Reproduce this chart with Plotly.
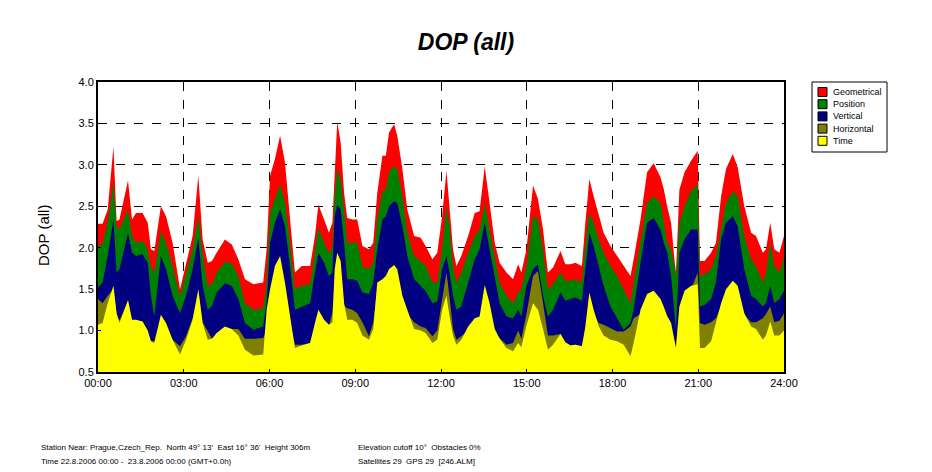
import plotly.graph_objects as go

time_h = [0.00, 0.16, 0.34, 0.54, 0.65, 0.75, 1.05, 1.19, 1.33, 1.56, 1.74, 1.85, 1.97, 2.20, 2.38, 2.61, 2.87, 3.08, 3.31, 3.51,
          3.66, 3.84, 3.99, 4.15, 4.44, 4.68, 4.91, 5.14, 5.44, 5.78, 5.90, 6.02, 6.19, 6.37, 6.54, 6.72, 6.89, 7.13, 7.42, 7.59,
          7.71, 7.91, 8.08, 8.20, 8.28, 8.37, 8.49, 8.61, 8.72, 8.90, 9.07, 9.25, 9.48, 9.63, 9.77, 9.95, 10.07, 10.18, 10.36, 10.47,
          10.65, 10.82, 11.06, 11.29, 11.46, 11.70, 11.87, 12.04, 12.19, 12.30, 12.42, 12.54, 12.71, 12.95, 13.18, 13.35, 13.53, 13.70, 13.88, 14.05,
          14.29, 14.52, 14.70, 14.81, 14.99, 15.22, 15.39, 15.57, 15.74, 15.92, 16.18, 16.35, 16.53, 16.70, 16.93, 17.05, 17.19, 17.34, 17.52, 17.69,
          17.93, 18.16, 18.39, 18.63, 18.74, 18.98, 19.21, 19.44, 19.68, 19.80, 19.91, 20.05, 20.17, 20.22, 20.34, 20.52, 20.75, 20.98, 21.06, 21.22,
          21.45, 21.62, 21.80, 21.97, 22.21, 22.38, 22.61, 22.85, 23.02, 23.26, 23.37, 23.52, 23.66, 23.84, 24.00]

geometrical = [2.29, 2.29, 2.46, 3.22, 2.32, 2.34, 2.81, 2.34, 2.42, 2.42, 2.30, 1.98, 1.96, 2.50, 2.38, 2.06, 1.50, 1.82, 2.14, 2.87,
               2.10, 1.82, 1.84, 1.94, 2.10, 2.04, 1.86, 1.62, 1.56, 1.58, 1.98, 2.87, 3.07, 3.35, 3.03, 2.34, 1.70, 1.78, 1.78, 2.14,
               2.52, 2.34, 2.18, 2.30, 2.87, 3.52, 3.27, 2.66, 2.36, 2.34, 2.34, 2.02, 1.98, 2.06, 2.66, 3.11, 3.11, 3.39, 3.49, 3.35,
               2.95, 2.46, 2.14, 2.12, 2.02, 1.86, 1.94, 2.38, 2.93, 2.46, 1.98, 1.78, 1.90, 2.14, 2.42, 2.44, 2.98, 2.54, 2.06, 1.82,
               1.70, 1.62, 1.80, 1.70, 1.98, 2.75, 2.59, 2.22, 1.70, 1.76, 1.96, 1.80, 1.80, 1.82, 1.78, 2.30, 2.83, 2.62, 2.38, 2.18,
               2.02, 1.90, 1.78, 1.66, 1.86, 2.34, 2.91, 3.02, 2.85, 2.70, 2.50, 2.30, 1.85, 1.70, 2.70, 2.91, 3.05, 3.17, 1.84, 1.84,
               1.94, 2.06, 2.62, 2.95, 3.13, 2.97, 2.50, 2.18, 2.14, 1.94, 1.98, 2.30, 1.98, 1.94, 2.14]

position = [2.00, 2.06, 2.30, 2.79, 2.26, 2.22, 2.46, 2.14, 2.06, 2.08, 1.98, 1.78, 1.70, 2.20, 2.06, 1.78, 1.42, 1.70, 1.98, 2.38,
            1.94, 1.54, 1.56, 1.70, 1.83, 1.81, 1.66, 1.33, 1.25, 1.27, 1.58, 2.42, 2.60, 2.77, 2.54, 2.06, 1.50, 1.54, 1.56, 1.94,
            2.24, 2.06, 1.94, 1.98, 2.62, 2.95, 2.83, 2.46, 2.06, 2.06, 2.06, 1.78, 1.74, 1.82, 2.34, 2.68, 2.70, 2.91, 2.99, 2.95,
            2.62, 2.18, 1.90, 1.84, 1.78, 1.58, 1.58, 1.98, 2.50, 2.26, 1.78, 1.58, 1.70, 1.94, 2.14, 2.22, 2.54, 2.22, 1.90, 1.58,
            1.42, 1.33, 1.46, 1.50, 1.78, 2.38, 2.34, 1.98, 1.50, 1.56, 1.70, 1.60, 1.60, 1.62, 1.58, 2.02, 2.42, 2.30, 2.10, 1.94,
            1.78, 1.66, 1.50, 1.33, 1.58, 2.06, 2.54, 2.62, 2.54, 2.30, 2.06, 1.98, 1.78, 1.65, 2.30, 2.50, 2.68, 2.77, 1.66, 1.68,
            1.74, 1.90, 2.22, 2.54, 2.68, 2.62, 2.14, 1.86, 1.78, 1.58, 1.70, 2.06, 1.78, 1.70, 1.90]

vertical = [1.52, 1.58, 1.90, 2.34, 1.70, 1.74, 2.18, 1.94, 1.90, 1.92, 1.82, 1.42, 1.17, 1.90, 1.74, 1.42, 1.21, 1.42, 1.74, 2.12,
            1.54, 1.25, 1.30, 1.46, 1.57, 1.54, 1.38, 1.09, 1.01, 1.05, 1.33, 2.06, 2.30, 2.46, 2.26, 1.78, 1.25, 1.29, 1.33, 1.70,
            1.94, 1.82, 1.66, 1.70, 2.38, 2.52, 2.46, 2.06, 1.62, 1.62, 1.60, 1.46, 1.44, 1.58, 1.98, 2.34, 2.38, 2.50, 2.56, 2.54,
            2.26, 1.90, 1.62, 1.54, 1.48, 1.33, 1.35, 1.74, 1.90, 1.70, 1.42, 1.25, 1.29, 1.58, 1.86, 1.98, 2.30, 1.98, 1.62, 1.33,
            1.17, 1.15, 1.25, 1.17, 1.54, 1.74, 1.80, 1.42, 1.17, 1.25, 1.46, 1.36, 1.38, 1.40, 1.36, 1.74, 2.18, 2.02, 1.78, 1.54,
            1.29, 1.15, 1.01, 1.09, 1.25, 1.82, 2.30, 2.36, 2.22, 2.05, 1.95, 1.66, 1.25, 1.01, 1.94, 2.10, 2.22, 2.22, 1.29, 1.31,
            1.38, 1.58, 2.10, 2.30, 2.38, 2.26, 1.74, 1.42, 1.38, 1.29, 1.33, 1.54, 1.33, 1.38, 1.48]

horizontal = [1.38, 1.33, 1.42, 1.50, 1.20, 1.12, 1.35, 1.12, 1.10, 1.10, 0.98, 0.87, 0.87, 1.15, 1.05, 0.89, 0.81, 0.93, 1.15, 1.45,
              1.10, 1.00, 0.90, 0.95, 1.02, 1.02, 1.02, 0.90, 0.90, 0.91, 1.00, 1.30, 1.50, 1.60, 1.40, 1.10, 0.83, 0.83, 0.85, 1.05,
              1.20, 1.10, 1.05, 1.22, 1.60, 1.80, 1.75, 1.30, 1.27, 1.25, 1.21, 1.10, 0.93, 1.10, 1.50, 1.55, 1.60, 1.65, 1.70, 1.65,
              1.35, 1.20, 1.10, 1.05, 1.03, 0.93, 1.00, 1.40, 1.70, 1.40, 1.02, 0.89, 0.93, 1.00, 1.10, 1.12, 1.45, 1.25, 0.98, 0.91,
              0.83, 0.85, 1.00, 0.90, 1.20, 1.66, 1.72, 1.33, 0.94, 0.94, 0.96, 0.86, 0.82, 0.83, 0.81, 1.00, 1.40, 1.20, 1.09, 1.07,
              1.03, 0.99, 0.99, 1.05, 1.15, 1.20, 1.40, 1.45, 1.35, 1.25, 1.15, 1.05, 0.85, 0.79, 1.25, 1.45, 1.50, 1.70, 1.09, 1.07,
              1.10, 1.15, 1.30, 1.45, 1.55, 1.50, 1.19, 1.10, 1.10, 1.15, 1.20, 1.29, 1.10, 1.12, 1.21]

time_dop = [1.07, 1.09, 1.33, 1.54, 1.21, 1.09, 1.37, 1.13, 1.13, 1.11, 1.00, 0.87, 0.85, 1.19, 1.09, 0.89, 0.71, 0.89, 1.13, 1.50,
            1.09, 0.89, 0.90, 0.97, 1.05, 1.02, 0.94, 0.77, 0.70, 0.71, 1.25, 1.50, 1.78, 1.90, 1.58, 1.17, 0.79, 0.82, 0.85, 1.09,
            1.25, 1.13, 1.07, 1.10, 1.74, 1.94, 1.84, 1.33, 1.13, 1.13, 1.09, 0.94, 0.89, 1.02, 1.58, 1.62, 1.66, 1.74, 1.79, 1.74,
            1.42, 1.25, 1.02, 1.00, 0.97, 0.85, 0.89, 1.25, 1.42, 1.17, 0.94, 0.83, 0.89, 1.05, 1.15, 1.17, 1.55, 1.33, 1.02, 0.90,
            0.79, 0.75, 0.85, 0.80, 1.06, 1.33, 1.25, 1.02, 0.77, 0.83, 0.96, 0.86, 0.82, 0.83, 0.81, 1.05, 1.46, 1.25, 1.05, 0.94,
            0.89, 0.87, 0.83, 0.69, 0.85, 1.25, 1.44, 1.48, 1.38, 1.28, 1.18, 1.09, 0.89, 0.79, 1.29, 1.48, 1.54, 1.56, 0.79, 0.79,
            0.87, 1.09, 1.33, 1.50, 1.60, 1.54, 1.21, 1.05, 1.02, 0.89, 0.94, 1.11, 0.94, 0.94, 1.00]

series_names = ["Geometrical", "Position", "Vertical", "Horizontal", "Time"]
series_colors = ["#FF0000", "#008000", "#000080", "#808000", "#FFFF00"]
x_tick_vals = [0, 3, 6, 9, 12, 15, 18, 21, 24]
x_tick_text = ["00:00", "03:00", "06:00", "09:00", "12:00", "15:00", "18:00", "21:00", "24:00"]
y_tick_vals = [0.5, 1.0, 1.5, 2.0, 2.5, 3.0, 3.5, 4.0]

info_lines_left = ["Station Near: Prague,Czech_Rep.  North 49° 13'  East 16° 36'  Height 306m",
                   "Time 22.8.2006 00:00 -  23.8.2006 00:00 (GMT+0.0h)"]
info_lines_right = ["Elevation cutoff 10°  Obstacles 0%",
                    "Satellites 29  GPS 29  [246.ALM]"]

# plot-area geometry in page pixels
PL, PR, PT, PB = 98, 784, 82, 372
PW, PH = PR - PL, PB - PT


def px_x(px):
    return (px - PL) / PW


def px_y(py):
    return (PB - py) / PH


FONT = "Arial, Liberation Sans, sans-serif"

fig = go.Figure()
all_series = [geometrical, position, vertical, horizontal, time_dop]
for name, color, vals in zip(series_names, series_colors, all_series):
    fig.add_trace(go.Scatter(
        x=time_h, y=vals, name=name, mode="lines",
        line=dict(width=0, color=color), fill="tozeroy", fillcolor=color,
        hoverinfo="x+y+name", showlegend=False,
    ))

axis_font = dict(family=FONT, size=11, color="black")
fig.update_xaxes(
    range=[0, 24], tickvals=x_tick_vals, ticktext=x_tick_text,
    showgrid=True, gridcolor="black", griddash="dash", gridwidth=1,
    showline=True, linecolor="black", linewidth=2, mirror=True,
    ticks="inside", ticklen=3, tickcolor="black", tickfont=axis_font, zeroline=False,
)
fig.update_yaxes(
    range=[0.5, 4.0], tickvals=y_tick_vals, tickformat=".1f",
    showgrid=True, gridcolor="black", griddash="dash", gridwidth=1,
    showline=True, linecolor="black", linewidth=2, mirror=True,
    ticks="inside", ticklen=3, tickcolor="black", tickfont=axis_font, zeroline=False,
)

annotations = [
    dict(text="DOP (all)", textangle=-90, xref="paper", yref="paper", x=px_x(43), y=px_y(236),
         xanchor="center", yanchor="middle", showarrow=False,
         font=dict(family=FONT, size=15, color="black")),
]
for i, line in enumerate(info_lines_left):
    annotations.append(dict(text=line, xref="paper", yref="paper", x=px_x(39), y=px_y(447 + i * 14),
                            xanchor="left", yanchor="middle", showarrow=False,
                            font=dict(family=FONT, size=8, color="black")))
for i, line in enumerate(info_lines_right):
    annotations.append(dict(text=line, xref="paper", yref="paper", x=px_x(356), y=px_y(447 + i * 14),
                            xanchor="left", yanchor="middle", showarrow=False,
                            font=dict(family=FONT, size=8, color="black")))

# compact legend box drawn like the original
shapes = [dict(type="rect", xref="paper", yref="paper", x0=px_x(812), x1=px_x(887), y0=px_y(152), y1=px_y(82),
               line=dict(color="black", width=1), fillcolor="white", layer="above")]
for i, (name, color) in enumerate(zip(series_names, series_colors)):
    cy = 92 + i * 12.2
    shapes.append(dict(type="rect", xref="paper", yref="paper", x0=px_x(818), x1=px_x(827),
                       y0=px_y(cy + 4.5), y1=px_y(cy - 4.5), fillcolor=color,
                       line=dict(color="black", width=1), layer="above"))
    annotations.append(dict(text=name, xref="paper", yref="paper", x=px_x(831), y=px_y(cy),
                            xanchor="left", yanchor="middle", showarrow=False,
                            font=dict(family=FONT, size=9, color="black")))

fig.update_layout(
    width=932, height=472,
    margin=dict(l=PL, r=932 - PR, t=PT, b=472 - PB),
    paper_bgcolor="white", plot_bgcolor="white",
    title=dict(text="<b><i>DOP (all)</i></b>", x=0.5, xanchor="center", y=1 - 42 / 472, yanchor="middle",
               font=dict(family=FONT, size=23, color="black")),
    showlegend=False,
    annotations=annotations,
    shapes=shapes,
)

fig.write_html("out.html", config={"displayModeBar": False},
               post_script="document.body.style.margin='0';document.body.style.padding='0';")
